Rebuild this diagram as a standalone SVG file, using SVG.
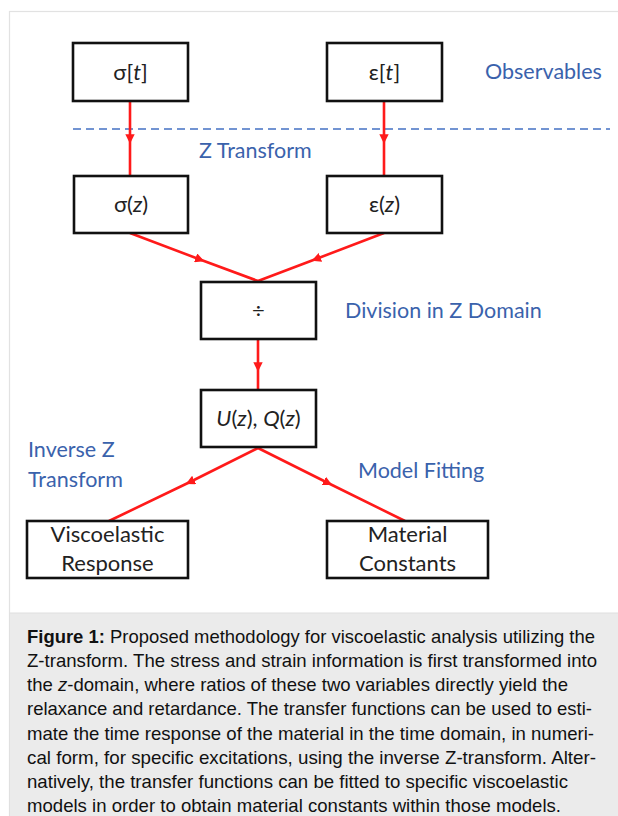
<svg xmlns="http://www.w3.org/2000/svg" width="618" height="816" viewBox="0 0 618 816">
<defs>
<style>
.box{fill:#fff;stroke:#111;stroke-width:2.6}
.lbl{font-family:Lato,"Open Sans",sans-serif;font-size:22px;fill:#222;text-anchor:middle}
.note{font-family:Lato,"Open Sans",sans-serif;font-size:21.5px;fill:#3a62ac}
.con{fill:none;stroke:#ff1a1a;stroke-width:2.6;marker-mid:url(#ah)}
.cap{font-family:"Liberation Sans",Arial,sans-serif;font-size:19px;fill:#111}
</style>
<marker id="ah" viewBox="0 0 10 10" refX="5" refY="5" markerWidth="3.6" markerHeight="3.6" orient="auto" markerUnits="strokeWidth">
<path d="M0,0 L10,5 L0,10 z" fill="#ff1a1a"/>
</marker>
</defs>
<rect x="0" y="0" width="618" height="816" fill="#fff"/>
<rect x="9.5" y="11.5" width="620" height="810" fill="#fff" stroke="#e2e2e2" stroke-width="1.2"/>
<rect x="9.5" y="613" width="620" height="210" fill="#ebebeb" stroke="#e0e0e0" stroke-width="1"/>

<line x1="73" y1="129" x2="610" y2="129" stroke="#4472c4" stroke-width="1.6" stroke-dasharray="8,5"/>

<g id="connectors">
<polyline class="con" points="130,101 130,139 130,176"/>
<polyline class="con" points="384,101 384,139 384,176"/>
<polyline class="con" points="130,233 200,259.5 258,281"/>
<polyline class="con" points="384,233 316,259 258,281"/>
<polyline class="con" points="258,339 258,367 258,389"/>
<polyline class="con" points="258,448 190,482 109,521"/>
<polyline class="con" points="258,448 328,483 405,521"/>
</g>

<g id="sigma-t"><rect class="box" x="73" y="43" width="115" height="58"/><text class="lbl" x="130.5" y="80">σ[<tspan font-style="italic">t</tspan>]</text></g>
<g id="eps-t"><rect class="box" x="327" y="43" width="115" height="58"/><text class="lbl" x="384.5" y="80">ε[<tspan font-style="italic">t</tspan>]</text></g>
<g id="sigma-z"><rect class="box" x="74" y="176" width="114" height="57"/><text class="lbl" x="131" y="212">σ(<tspan font-style="italic">z</tspan>)</text></g>
<g id="eps-z"><rect class="box" x="327" y="176" width="115" height="57"/><text class="lbl" x="384.5" y="212">ε(<tspan font-style="italic">z</tspan>)</text></g>
<g id="divide"><rect class="box" x="201" y="282" width="115" height="57"/><text class="lbl" x="258.5" y="318">÷</text></g>
<g id="transfer"><rect class="box" x="201" y="390" width="115" height="57"/><text class="lbl" x="258.5" y="426"><tspan font-style="italic">U</tspan>(<tspan font-style="italic">z</tspan>), <tspan font-style="italic">Q</tspan>(<tspan font-style="italic">z</tspan>)</text></g>
<g id="response"><rect class="box" x="27" y="521" width="161" height="57"/><text class="lbl" x="107.5" y="542">Viscoelastic</text><text class="lbl" x="107.5" y="571">Response</text></g>
<g id="constants"><rect class="box" x="327" y="521" width="161" height="57"/><text class="lbl" x="407.5" y="542">Material</text><text class="lbl" x="407.5" y="571">Constants</text></g>

<g id="notes">
<text class="note" x="485" y="79">Observables</text>
<text class="note" x="199" y="158">Z Transform</text>
<text class="note" x="345" y="318">Division in Z Domain</text>
<text class="note" x="28" y="457">Inverse Z</text>
<text class="note" x="28" y="487">Transform</text>
<text class="note" x="358" y="478">Model Fitting</text>
</g>

<g id="caption">
<text class="cap" x="27" y="643" textLength="568" lengthAdjust="spacingAndGlyphs"><tspan font-weight="bold">Figure 1:</tspan> Proposed methodology for viscoelastic analysis utilizing the</text>
<text class="cap" x="27" y="667" textLength="570" lengthAdjust="spacingAndGlyphs">Z-transform. The stress and strain information is first transformed into</text>
<text class="cap" x="27" y="691" textLength="541" lengthAdjust="spacingAndGlyphs">the <tspan font-style="italic">z</tspan>-domain, where ratios of these two variables directly yield the</text>
<text class="cap" x="27" y="715" textLength="565" lengthAdjust="spacingAndGlyphs">relaxance and retardance. The transfer functions can be used to esti-</text>
<text class="cap" x="27" y="740" textLength="567" lengthAdjust="spacingAndGlyphs">mate the time response of the material in the time domain, in numeri-</text>
<text class="cap" x="27" y="764" textLength="569" lengthAdjust="spacingAndGlyphs">cal form, for specific excitations, using the inverse Z-transform. Alter-</text>
<text class="cap" x="27" y="788" textLength="541" lengthAdjust="spacingAndGlyphs">natively, the transfer functions can be fitted to specific viscoelastic</text>
<text class="cap" x="27" y="812" textLength="534" lengthAdjust="spacingAndGlyphs">models in order to obtain material constants within those models.</text>
</g>
</svg>
